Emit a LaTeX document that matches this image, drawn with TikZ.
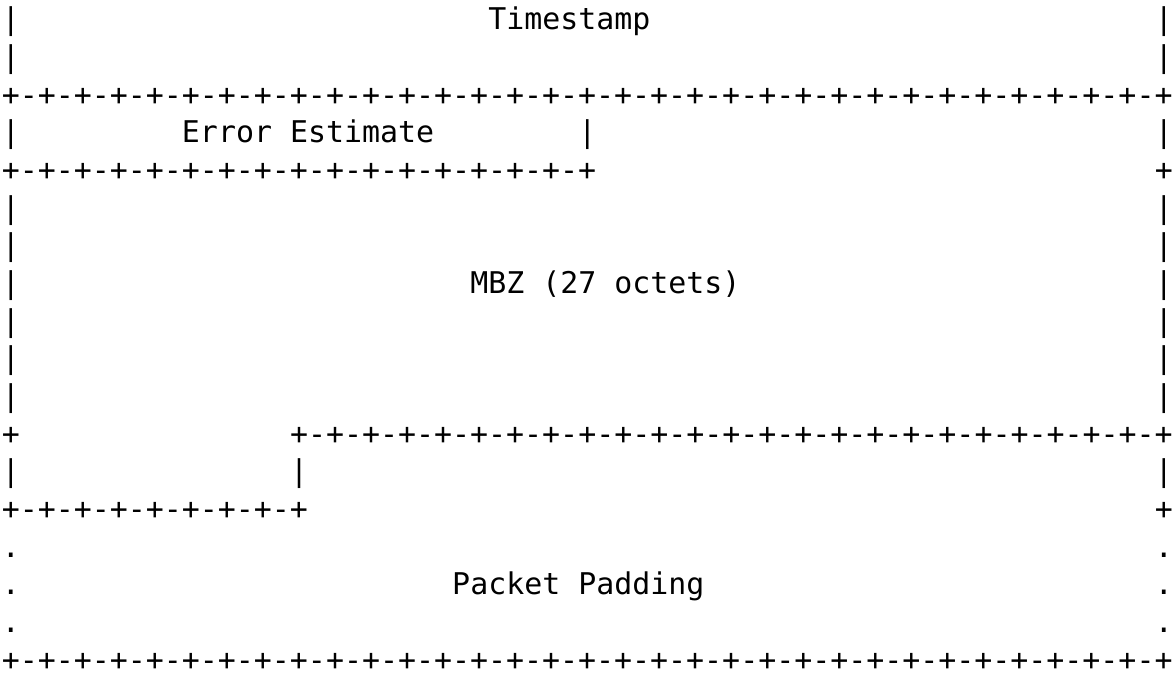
\documentclass[tikz,border=0pt]{standalone}
\usepackage{fontspec}
\newfontfamily\asciifont{DejaVu Sans Mono}
\newcommand\plusrun[1]{\foreach \i in {1,...,#1}{+-}+}

\begin{document}
\begin{tikzpicture}[x=9.015pt, y=-18.85pt,
    ascii/.style={anchor=base west, inner sep=0pt, outer sep=0pt,
      font=\asciifont\fontsize{14.97pt}{18.85pt}\selectfont}]
  \useasboundingbox (-0.6,-0.788) rectangle (64.56,17.1);

  \node[ascii] (r1w) at (-0.5,0) {|};
  \node[ascii] (stamp) at (26.5,0) {Timestamp};
  \node[ascii] (r1e) at (63.5,0) {|};
  \node[ascii] (r2w) at (-0.5,1) {|};
  \node[ascii] (r2e) at (63.5,1) {|};
  \node[ascii] (rule1) at (-0.5,2) {\plusrun{32}};

  \node[ascii] (r4w) at (-0.5,3) {|};
  \node[ascii] (errest) at (9.5,3) {Error Estimate};
  \node[ascii] (r4m) at (31.5,3) {|};
  \node[ascii] (r4e) at (63.5,3) {|};
  \node[ascii] (rule2) at (-0.5,4) {\plusrun{16}};
  \node[ascii] (r5e) at (63.5,4) {+};

  \node[ascii] (r6w) at (-0.5,5) {|};
  \node[ascii] (r6e) at (63.5,5) {|};
  \node[ascii] (r7w) at (-0.5,6) {|};
  \node[ascii] (r7e) at (63.5,6) {|};
  \node[ascii] (r8w) at (-0.5,7) {|};
  \node[ascii] (mbz) at (25.5,7) {MBZ (27 octets)};
  \node[ascii] (r8e) at (63.5,7) {|};
  \node[ascii] (r9w) at (-0.5,8) {|};
  \node[ascii] (r9e) at (63.5,8) {|};
  \node[ascii] (r10w) at (-0.5,9) {|};
  \node[ascii] (r10e) at (63.5,9) {|};
  \node[ascii] (r11w) at (-0.5,10) {|};
  \node[ascii] (r11e) at (63.5,10) {|};

  \node[ascii] (r12w) at (-0.5,11) {+};
  \node[ascii] (rule3) at (15.5,11) {\plusrun{24}};
  \node[ascii] (r13w) at (-0.5,12) {|};
  \node[ascii] (r13m) at (15.5,12) {|};
  \node[ascii] (r13e) at (63.5,12) {|};
  \node[ascii] (rule4) at (-0.5,13) {\plusrun{8}};
  \node[ascii] (r14e) at (63.5,13) {+};

  \node[ascii] (r15w) at (-0.5,14) {.};
  \node[ascii] (r15e) at (63.5,14) {.};
  \node[ascii] (r16w) at (-0.5,15) {.};
  \node[ascii] (padding) at (24.5,15) {Packet Padding};
  \node[ascii] (r16e) at (63.5,15) {.};
  \node[ascii] (r17w) at (-0.5,16) {.};
  \node[ascii] (r17e) at (63.5,16) {.};
  \node[ascii] (rule5) at (-0.5,17) {\plusrun{32}};
\end{tikzpicture}
\end{document}
